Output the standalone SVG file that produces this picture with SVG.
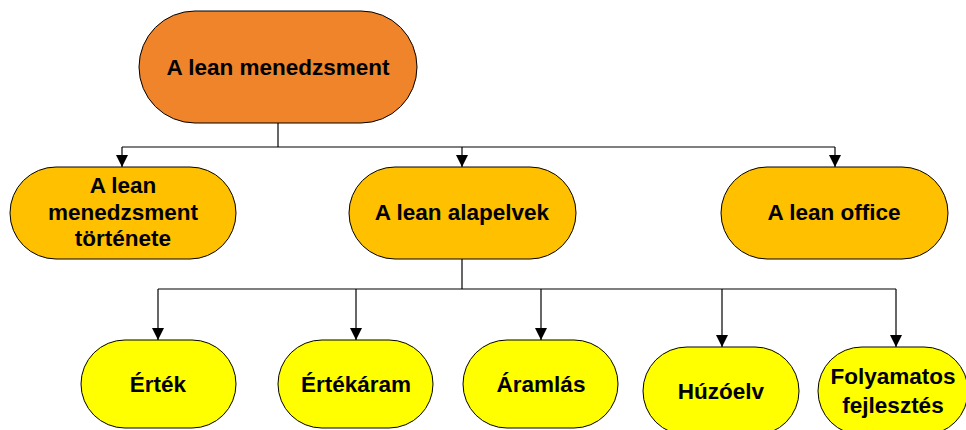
<svg xmlns="http://www.w3.org/2000/svg" width="966" height="430" viewBox="0 0 966 430">
  <defs>
    <marker id="arrow" viewBox="0 0 10 10" refX="10" refY="5" markerWidth="12" markerHeight="12" markerUnits="userSpaceOnUse" orient="auto">
      <path d="M0,0 L10,5 L0,10 z" fill="#000"/>
    </marker>
    <style>
      .node { stroke: #000; stroke-width: 1; }
      .top { fill: #F0842A; }
      .mid { fill: #FFC000; }
      .leaf { fill: #FFFF00; }
      .label { font-family: "Liberation Sans", Arial, sans-serif; font-weight: bold; font-size: 22.5px; fill: #000; text-anchor: middle; }
      .conn { fill: none; stroke: #000; stroke-width: 1.2; }
    </style>
  </defs>
  <rect width="966" height="430" fill="#fff"/>

  <g id="connectors">
    <path class="conn" d="M278,123 V147"/>
    <path class="conn" d="M122,147 H835"/>
    <path class="conn" d="M122,147 V167" marker-end="url(#arrow)"/>
    <path class="conn" d="M462,147 V167" marker-end="url(#arrow)"/>
    <path class="conn" d="M835,147 V167" marker-end="url(#arrow)"/>
    <path class="conn" d="M462,259 V289"/>
    <path class="conn" d="M158,289 H896"/>
    <path class="conn" d="M158,289 V340" marker-end="url(#arrow)"/>
    <path class="conn" d="M356,289 V340" marker-end="url(#arrow)"/>
    <path class="conn" d="M541,289 V340" marker-end="url(#arrow)"/>
    <path class="conn" d="M722,289 V347" marker-end="url(#arrow)"/>
    <path class="conn" d="M896,289 V347" marker-end="url(#arrow)"/>
  </g>

  <g id="lean-menedzsment">
    <rect class="node top" x="139" y="11" width="278" height="112" rx="56"/>
    <text class="label" x="278" y="75">A lean menedzsment</text>
  </g>

  <g id="tortenete">
    <rect class="node mid" x="10" y="167" width="226" height="92" rx="46"/>
    <text class="label" x="123" y="193">A lean</text>
    <text class="label" x="123" y="220">menedzsment</text>
    <text class="label" x="123" y="246">története</text>
  </g>

  <g id="alapelvek">
    <rect class="node mid" x="349" y="167" width="227" height="92" rx="46"/>
    <text class="label" x="462" y="220">A lean alapelvek</text>
  </g>

  <g id="office">
    <rect class="node mid" x="721" y="167" width="227" height="92" rx="46"/>
    <text class="label" x="834" y="220">A lean office</text>
  </g>

  <g id="ertek">
    <rect class="node leaf" x="81" y="340" width="155" height="88" rx="44"/>
    <text class="label" x="158" y="392">Érték</text>
  </g>

  <g id="ertekaram">
    <rect class="node leaf" x="278" y="340" width="155" height="88" rx="44"/>
    <text class="label" x="356" y="392">Értékáram</text>
  </g>

  <g id="aramlas">
    <rect class="node leaf" x="463" y="340" width="155" height="88" rx="44"/>
    <text class="label" x="541" y="392">Áramlás</text>
  </g>

  <g id="huzoelv">
    <rect class="node leaf" x="643" y="347" width="156" height="88" rx="44"/>
    <text class="label" x="721" y="399">Húzóelv</text>
  </g>

  <g id="folyamatos">
    <rect class="node leaf" x="818" y="347" width="150" height="88" rx="44"/>
    <text class="label" x="893" y="384">Folyamatos</text>
    <text class="label" x="893" y="413">fejlesztés</text>
  </g>
</svg>
